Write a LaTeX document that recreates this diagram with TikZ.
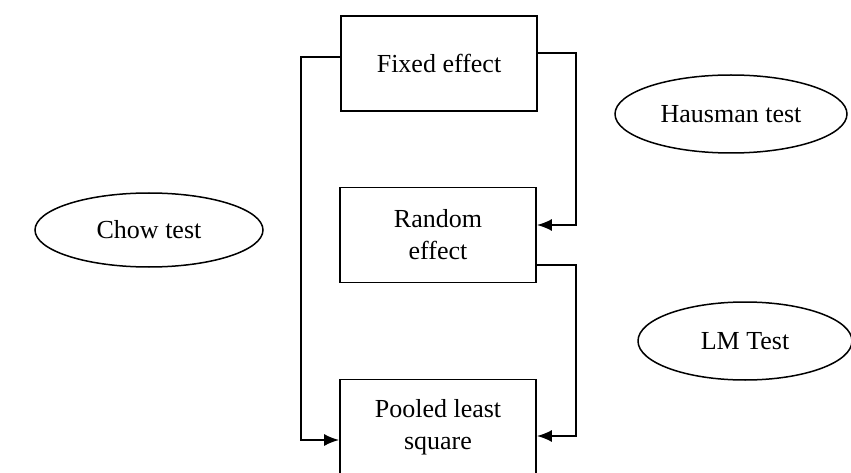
\documentclass[tikz,border=0pt]{standalone}
\usepackage{fontspec}
\setmainfont{Liberation Serif}
\usepackage{tikz}
\usetikzlibrary{positioning,calc,shapes.geometric,arrows.meta}

\begin{document}
\begin{tikzpicture}[x=1pt,y=-1pt,
		model/.style={minimum height=95pt,minimum width=196pt,draw=black,line width=1.8pt,align=center,font=\fontsize{26}{32}\selectfont},
		testnode/.style={ellipse,draw=black,line width=1.5pt,font=\fontsize{26}{32}\selectfont},
		link/.style={line width=1.8pt},
		arr/.style={link,-{Latex[length=15pt,width=12pt]}}]
		\useasboundingbox (0,0) rectangle (851,473);
		\clip (0,0) rectangle (851,473);
		
		\node[model] (fixed) at (439,63.5) {Fixed effect};
		
		\node[model] (random) at (438,235) {Random\\effect};
		
		\node[model] (pooled) at (438,427) {Pooled least\\square};
		
		\node[testnode,minimum width=228pt,minimum height=74pt] (chow) at (149,230) {Chow test};
		\node[testnode,minimum width=232pt,minimum height=78pt] (hausman) at (731,114) {Hausman test};
		\node[testnode,minimum width=214pt,minimum height=78pt] (lm) at (745,341) {LM Test};
		
		\draw[arr] ([yshift=6.5pt]fixed.west) -- ++(-39,0) |- ([yshift=-13pt]pooled.west);
		\draw[arr] ([yshift=10.5pt]fixed.east) -- ++(38,0) |- ([yshift=10pt]random.east);
		\draw[arr] ([yshift=-30pt]random.east) -- ++(39,0) |- ([yshift=-9pt]pooled.east);
	\end{tikzpicture}
\end{document}
